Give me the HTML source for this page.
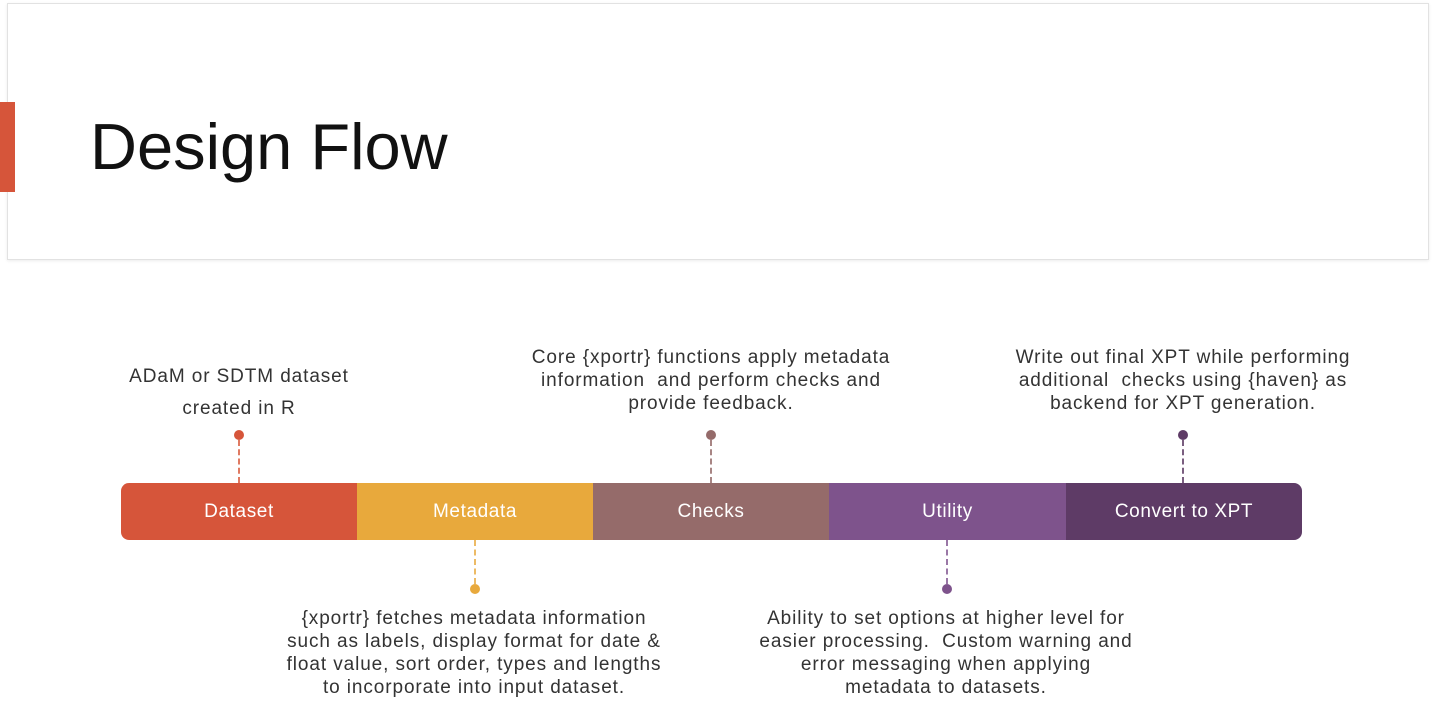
<!DOCTYPE html>
<html><head><meta charset="utf-8"><style>
body{margin:0;width:1436px;height:726px;background:#fff;position:relative;overflow:hidden;font-family:"Liberation Sans",sans-serif;}
.hdr{position:absolute;left:7px;top:3px;width:1420px;height:255px;border:1px solid #e2e2e2;box-shadow:0 1px 3px rgba(0,0,0,0.08);background:#fff;}
.acc{position:absolute;left:0;top:102px;width:15px;height:90px;background:#D6553A;}
.title{position:absolute;left:90px;top:107px;font-size:65px;color:#111;line-height:80px;}
.bar{position:absolute;top:483px;height:57px;color:#fff;font-size:19px;line-height:57px;text-align:center;letter-spacing:0.6px;}
.t{position:absolute;font-size:19px;letter-spacing:0.9px;color:#333;text-align:center;line-height:23px;white-space:nowrap;}
.dot{position:absolute;width:10px;height:10px;border-radius:50%;}
.ln{position:absolute;width:0;border-left-width:2px;border-left-style:dashed;}
</style></head><body>
<div class="hdr"></div>
<div class="acc"></div>
<div class="title">Design Flow</div>

<div class="bar" style="left:121px;width:236px;background:#D6553A;border-radius:8px 0 0 8px">Dataset</div>
<div class="bar" style="left:357px;width:236px;background:#E8A93C">Metadata</div>
<div class="bar" style="left:593px;width:236px;background:#956B6A">Checks</div>
<div class="bar" style="left:829px;width:237px;background:#7E538C">Utility</div>
<div class="bar" style="left:1066px;width:236px;background:#5E3B66;border-radius:0 8px 8px 0">Convert to XPT</div>

<div class="dot" style="left:234px;top:430px;background:#D6553A"></div>
<div class="ln" style="left:238px;top:440px;height:43px;border-left-color:#E07A62"></div>
<div class="dot" style="left:706px;top:430px;background:#956B6A"></div>
<div class="ln" style="left:710px;top:440px;height:43px;border-left-color:#A88584"></div>
<div class="dot" style="left:1178px;top:430px;background:#5E3B66"></div>
<div class="ln" style="left:1182px;top:440px;height:43px;border-left-color:#7A5E80"></div>
<div class="dot" style="left:470px;top:584px;background:#E8A93C"></div>
<div class="ln" style="left:474px;top:540px;height:44px;border-left-color:#EDBB66"></div>
<div class="dot" style="left:942px;top:584px;background:#7E538C"></div>
<div class="ln" style="left:946px;top:540px;height:44px;border-left-color:#9A77A6"></div>

<div class="t" style="left:89px;width:300px;top:361px;line-height:32px">ADaM or SDTM dataset<br>created in R</div>
<div class="t" style="left:511px;width:400px;top:346px">Core {xportr} functions apply metadata<br>information &nbsp;and perform checks and<br>provide feedback.</div>
<div class="t" style="left:983px;width:400px;top:346px">Write out final XPT while performing<br>additional &nbsp;checks using {haven} as<br>backend for XPT generation.</div>
<div class="t" style="left:274px;width:400px;top:607px">{xportr} fetches metadata information<br>such as labels, display format for date &amp;<br>float value, sort order, types and lengths<br>to incorporate into input dataset.</div>
<div class="t" style="left:746px;width:400px;top:607px">Ability to set options at higher level for<br>easier processing. &nbsp;Custom warning and<br>error messaging when applying<br>metadata to datasets.</div>
</body></html>
